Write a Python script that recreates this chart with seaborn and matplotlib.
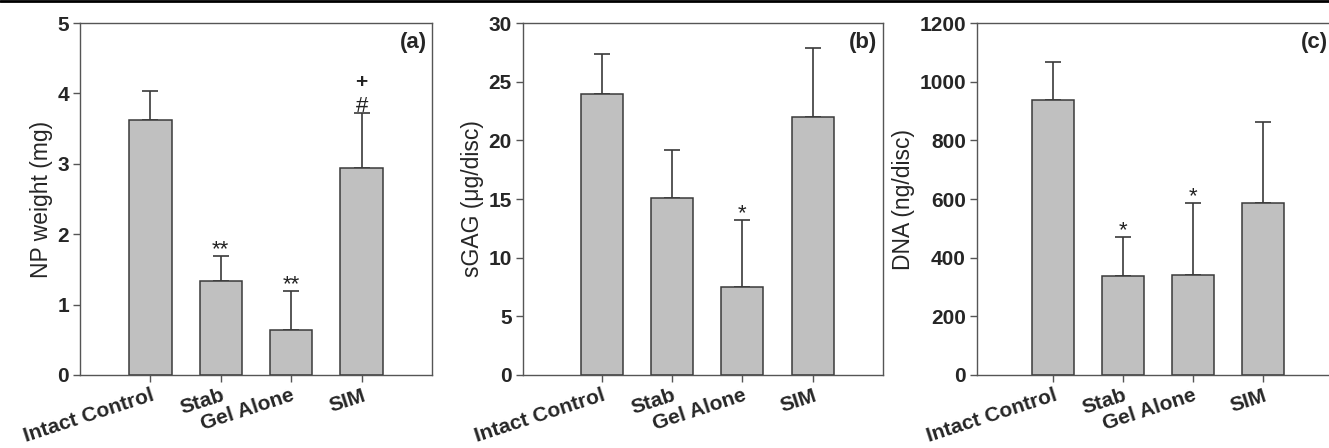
import numpy as np
import pandas as pd
import seaborn as sns
import matplotlib.pyplot as plt
from matplotlib.lines import Line2D

groups = ["Intact Control", "Stab", "Gel Alone", "SIM"]

np_weight = [3.62, 1.33, 0.64, 2.94]
np_weight_err = [0.42, 0.36, 0.56, 0.78]
np_marks = ["", "**", "**", "#"]

sgag = [23.98, 15.1, 7.47, 21.97]
sgag_err = [3.42, 4.1, 5.77, 5.88]
sgag_marks = ["", "", "*", ""]

dna = [937, 336, 340, 586]
dna_err = [129, 133, 247, 277]
dna_marks = ["", "*", "*", ""]

sns.set_style("ticks")
plt.rcParams['font.family'] = ['Liberation Sans', 'DejaVu Sans']

W, H = 1329, 448
fig = plt.figure(figsize=(W / 100, H / 100), dpi=100)

spine_col = "#555555"
bar_col = "#c0c0c0"
edge_col = "#3a3a3a"


def make_ax(left, right, top=23, bottom=375):
    return fig.add_axes([left / W, 1 - bottom / H, (right - left) / W, (bottom - top) / H])


panels = [
    dict(box=(80, 432), xlim=(-1, 4), vals=np_weight, err=np_weight_err, marks=np_marks,
         ylim=(0, 5), yticks=np.arange(0, 6, 1), ylabel="NP weight (mg)", tag="(a)"),
    dict(box=(523, 883), xlim=(-1.12, 4), vals=sgag, err=sgag_err, marks=sgag_marks,
         ylim=(0, 30), yticks=np.arange(0, 31, 5), ylabel="sGAG (\u03bcg/disc)", tag="(b)"),
    dict(box=(977, 1333), xlim=(-1.09, 4), vals=dna, err=dna_err, marks=dna_marks,
         ylim=(0, 1200), yticks=np.arange(0, 1201, 200), ylabel="DNA (ng/disc)", tag="(c)"),
]

for p in panels:
    ax = make_ax(*p["box"])
    df = pd.DataFrame({"group": groups, "value": p["vals"]})
    sns.barplot(data=df, x="group", y="value", color=bar_col, saturation=1,
                edgecolor=edge_col, linewidth=1.1, width=0.6, errorbar=None, ax=ax)
    xs = np.arange(len(groups))
    ax.errorbar(xs, p["vals"], yerr=[np.zeros(len(xs)), p["err"]], fmt="none",
                ecolor=edge_col, elinewidth=1.2, capsize=6, capthick=1.2, zorder=1)
    # bars drawn over lower half of error line
    for patch in ax.patches:
        patch.set_zorder(2)

    ymax = p["ylim"][1]
    for x, v, e, m in zip(xs, p["vals"], p["err"], p["marks"]):
        if m:
            ax.text(x, v + e - ymax * 0.012, m, ha="center", va="bottom",
                    fontsize=16, color="#222222")
    if p["tag"] == "(a)":
        ax.text(3, np_weight[3] + np_weight_err[3] + 0.44, "+", ha="center",
                va="center", fontsize=15, fontweight="bold", color="#222222")

    ax.set_xlim(*p["xlim"])
    ax.set_ylim(*p["ylim"])
    ax.set_yticks(p["yticks"])
    ax.set_yticklabels([str(int(t)) for t in p["yticks"]], fontsize=15, fontweight="bold")
    ax.set_xticks(xs)
    ax.set_xticklabels(groups, fontsize=15, fontweight="bold", rotation=18,
                       ha="right", rotation_mode="anchor")
    ax.set_xlabel("")
    ax.set_ylabel(p["ylabel"], fontsize=16.5, labelpad=3)
    ax.tick_params(axis="both", direction="out", length=5, width=1, color=spine_col, pad=3)
    ax.tick_params(axis="x", pad=3)
    for s in ax.spines.values():
        s.set_visible(True)
        s.set_color(spine_col)
        s.set_linewidth(1)
    ax.text(0.985, 0.975, p["tag"], transform=ax.transAxes, ha="right", va="top",
            fontsize=16, fontweight="bold")

fig.add_artist(Line2D([0, 1], [0.998, 0.998], color="black", lw=2, transform=fig.transFigure))

fig.savefig("out.png", dpi=100)
